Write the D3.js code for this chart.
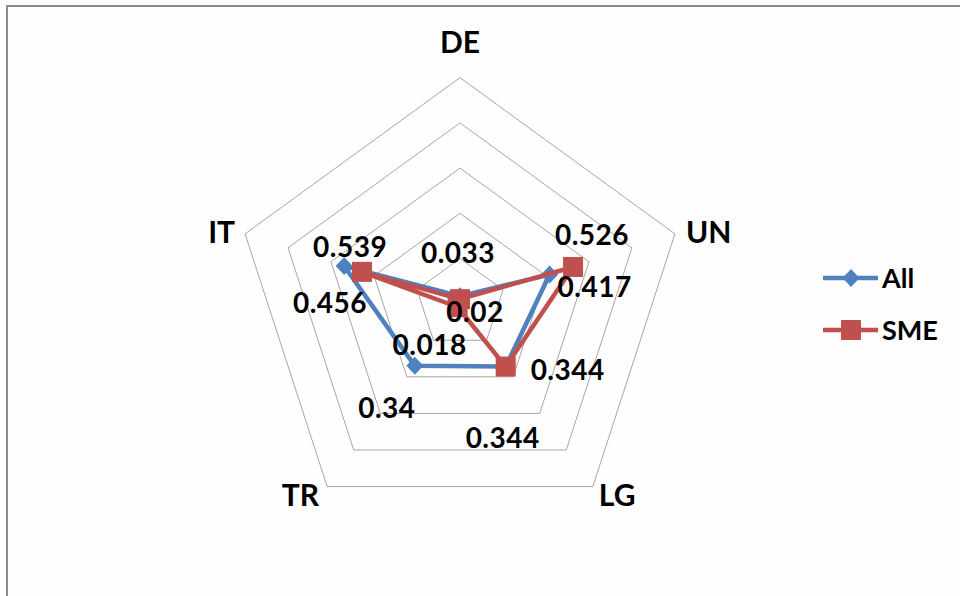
<!DOCTYPE html>
<html>
<head>
<meta charset="utf-8">
<script src="https://cdn.jsdelivr.net/npm/d3@7"></script>
<style>
  html, body { margin: 0; padding: 0; background: #ffffff; }
  svg { display: block; }
</style>
</head>
<body>
<div id="chart"></div>
<script>
// Radar chart: All vs SME across five categories.
const categories = ['DE', 'UN', 'LG', 'TR', 'IT'];
const allValues = [0.033, 0.417, 0.344, 0.34, 0.539];
const smeValues = [0.02, 0.526, 0.344, 0.018, 0.456];
const ringTicks = [0.2, 0.4, 0.6, 0.8, 1.0];

// where Excel left each data label, pixels from its point
const allLabelNudge = [[-2, -43], [45, 12], [-3, 71], [-28, 42], [6, -19]];
const smeLabelNudge = [[15, 13], [19, -32], [62, 3], [-28, 38], [-32, 31]];

const width = 960;
const height = 596;
const cx = 460;
const cy = 303.7;
const maxRadius = 226;

const series = [
  { name: 'All', values: allValues, color: '#4f81bd', marker: 'diamond', nudge: allLabelNudge },
  { name: 'SME', values: smeValues, color: '#c0504d', marker: 'square', nudge: smeLabelNudge },
];

const svg = d3.select('#chart')
  .append('svg')
  .attr('width', width)
  .attr('height', height)
  .style('font-family', 'Lato, "Open Sans", sans-serif');

// chart frame
svg.append('rect')
  .attr('x', 7).attr('y', 6)
  .attr('width', width + 20).attr('height', height + 20)
  .attr('fill', '#fefefe')
  .attr('stroke', '#8c8c8c')
  .attr('stroke-width', 2);

const r = d3.scaleLinear().domain([0, 1]).range([0, maxRadius]);
const angle = d3.scalePoint().domain(categories).range([0, Math.PI * 2 * 4 / 5]);

function pt(cat, v) {
  const a = angle(cat);
  return [cx + r(v) * Math.sin(a), cy - r(v) * Math.cos(a)];
}

// pentagon rings
ringTicks.forEach(t => {
  svg.append('polygon')
    .attr('points', categories.map(c => pt(c, t).join(',')).join(' '))
    .attr('fill', 'none')
    .attr('stroke', '#a6a6a6')
    .attr('stroke-width', 1);
});

// axis labels
categories.forEach(c => {
  const a = angle(c);
  const [x, y] = pt(c, 1);
  const sx = Math.sin(a);
  let anchor = 'middle', lx = x, ly = y;
  if (Math.abs(sx) < 0.01) { ly = y - 36; }
  else if (Math.abs(Math.cos(a)) < 0.5) { anchor = sx > 0 ? 'start' : 'end'; lx = x + (sx > 0 ? 11 : -10); ly = y - 2; }
  else { anchor = sx > 0 ? 'start' : 'end'; lx = x + (sx > 0 ? 6 : -8); ly = y + 8; }
  svg.append('text')
    .attr('x', lx).attr('y', ly + 11)
    .attr('text-anchor', anchor)
    .attr('font-size', '30px')
    .attr('font-weight', 700)
    .attr('fill', '#000')
    .text(c);
});

const line = d3.line().curve(d3.curveLinearClosed);

function drawMarker(g, kind, x, y, color) {
  if (kind === 'square') {
    g.append('rect')
      .attr('x', x - 10).attr('y', y - 10)
      .attr('width', 20).attr('height', 20)
      .attr('fill', color);
  } else {
    g.append('path')
      .attr('d', `M${x},${y - 9}L${x + 8.5},${y}L${x},${y + 9}L${x - 8.5},${y}Z`)
      .attr('fill', color);
  }
}

series.forEach(s => {
  const g = svg.append('g');
  const pts = categories.map((c, i) => pt(c, s.values[i]));
  g.append('path')
    .attr('d', line(pts))
    .attr('fill', 'none')
    .attr('stroke', s.color)
    .attr('stroke-width', 4.5)
    .attr('stroke-linejoin', 'round');
  pts.forEach(p => drawMarker(g, s.marker, p[0], p[1], s.color));
});

// data labels on top
series.forEach(s => {
  categories.forEach((c, i) => {
    const [x, y] = pt(c, s.values[i]);
    svg.append('text')
      .attr('x', x + s.nudge[i][0])
      .attr('y', y + s.nudge[i][1] + 10)
      .attr('text-anchor', 'middle')
      .attr('font-size', '28px')
      .attr('font-weight', 700)
      .attr('letter-spacing', '0.5px')
      .attr('fill', '#000')
      .text(s.values[i]);
  });
});

// legend
const legend = svg.append('g').attr('transform', 'translate(823, 278)');
series.forEach((s, i) => {
  const g = legend.append('g').attr('transform', `translate(0, ${i * 52})`);
  g.append('line')
    .attr('x1', 0).attr('x2', 55)
    .attr('y1', 0).attr('y2', 0)
    .attr('stroke', s.color)
    .attr('stroke-width', 4.5);
  drawMarker(g, s.marker, 28, 0, s.color);
  g.append('text')
    .attr('x', 59).attr('y', 10)
    .attr('font-size', '27px')
    .attr('font-weight', 700)
    .attr('fill', '#000')
    .text(s.name);
});
</script>
</body>
</html>
